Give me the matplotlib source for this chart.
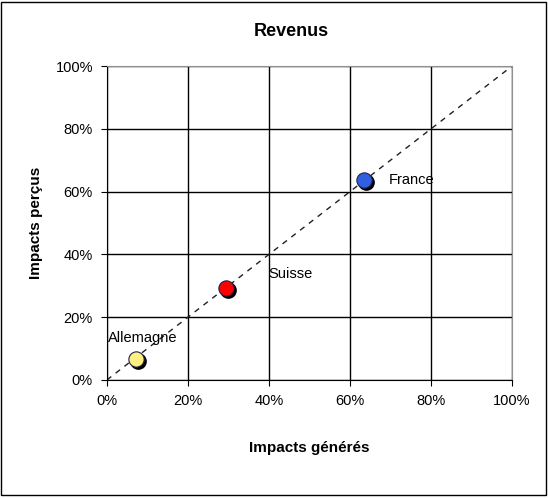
import matplotlib.pyplot as plt
from matplotlib.ticker import PercentFormatter
import matplotlib.transforms as mtransforms
import matplotlib.patches as patches

plt.rcParams['font.family'] = ['Liberation Sans', 'DejaVu Sans']

pays = ['France', 'Suisse', 'Allemagne']
impacts_generes = [0.635, 0.295, 0.072]
impacts_percus = [0.638, 0.292, 0.068]
couleurs = ['#3060e0', '#ff0000', '#ffee80']
# label offsets in points
decalages = [(18, 0), (30, 10), (-20, 15)]

fig = plt.figure(figsize=(5.48, 4.98), dpi=100, facecolor='white')
ax = fig.add_axes([0.195, 0.237, 0.739, 0.63])

ax.plot([0, 1], [0, 1], ls=(0, (4, 4)), color='#202020', lw=1, zorder=2)

ombre = ax.transData + mtransforms.ScaledTranslation(2/100, -2/100, fig.dpi_scale_trans)
for x, y, c in zip(impacts_generes, impacts_percus, couleurs):
    ax.plot(x, y, 'o', ms=11, color='black', zorder=3, transform=ombre)
    ax.plot(x, y, 'o', ms=11, color=c, mec='#202050', mew=0.8, zorder=4)

for x, y, nom, (dx, dy) in zip(impacts_generes, impacts_percus, pays, decalages):
    ax.annotate(nom, (x, y), xytext=(dx, dy), textcoords='offset points',
                fontsize=10.5, va='center', ha='left', zorder=5)

ax.set_xlim(0, 1)
ax.set_ylim(0, 1)
ax.set_xticks([0, 0.2, 0.4, 0.6, 0.8, 1.0])
ax.set_yticks([0, 0.2, 0.4, 0.6, 0.8, 1.0])
ax.xaxis.set_major_formatter(PercentFormatter(1.0, decimals=0))
ax.yaxis.set_major_formatter(PercentFormatter(1.0, decimals=0))
ax.tick_params(labelsize=10.5, length=4, direction='out', color='black', pad=6)
ax.grid(True, color='black', lw=1)
ax.set_axisbelow(True)
for s in ['top', 'right']:
    ax.spines[s].set_color('#909090')
for s in ['left', 'bottom']:
    ax.spines[s].set_color('black')

ax.set_xlabel('Impacts générés', fontsize=11, fontweight='bold', labelpad=24)
ax.set_ylabel('Impacts perçus', fontsize=11, fontweight='bold', labelpad=9)
fig.text(0.532, 0.937, 'Revenus', ha='center', va='center', fontsize=13, fontweight='bold')

fig.add_artist(patches.Rectangle((0.002, 0.006), 0.994, 0.99, fill=False, edgecolor='black',
                                 lw=1, transform=fig.transFigure))

fig.savefig('out.png', dpi=100)
